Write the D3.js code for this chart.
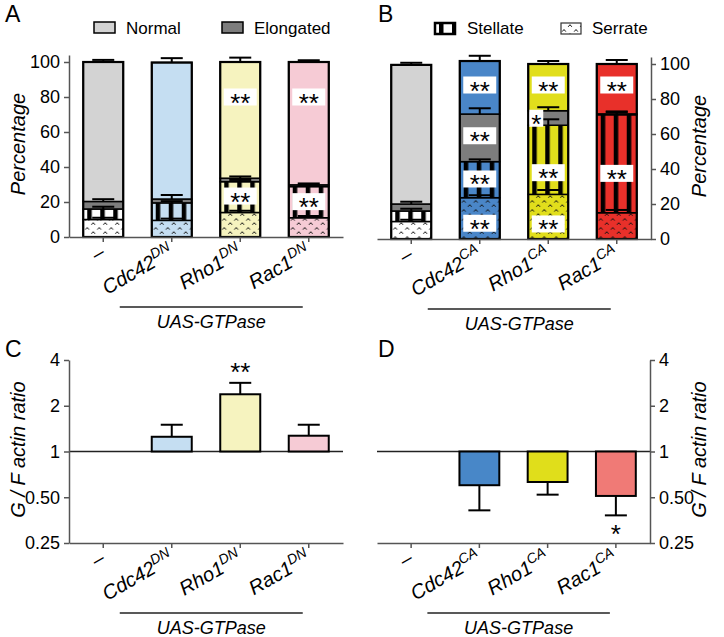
<!DOCTYPE html>
<html>
<head>
<meta charset="utf-8">
<script src="https://cdn.jsdelivr.net/npm/d3@7"></script>
<style>
body { margin: 0; background: #fff; }
text { font-family: "Liberation Sans", Arial, sans-serif; fill: #000; }
</style>
</head>
<body>
<script>
var categories = ["–", "Cdc42", "Rho1", "Rac1"];
var supDN = ["", "DN", "DN", "DN"];
var supCA = ["", "CA", "CA", "CA"];
var shapes = ["Serrate", "Stellate", "Elongated", "Normal"];

// panel A, percentage of cells per shape (bottom to top)
var serrateA   = [10, 9.5, 14, 11];
var stellateA  = [6, 10, 17.6, 17.8];
var elongatedA = [4.3, 2.2, 2, 1];
var normalA    = [79.7, 78, 66.4, 70.2];
var serrateErrA   = [1, 1, 1, 1];
var stellateErrA  = [1.3, 1, 1, 1];
var elongatedErrA = [1.3, 2.3, 1, 0.8];
var normalErrA    = [1.2, 2.5, 2.5, 1];

// panel B
var serrateB   = [10, 23.6, 25.5, 15];
var stellateB  = [6, 20.6, 39.5, 56];
var elongatedB = [4, 27.2, 8.3, 0.5];
var normalB    = [79.5, 30.3, 26.7, 28.5];
var serrateErrB   = [1, 1.4, 2.5, 1.6];
var stellateErrB  = [1.3, 1.3, 3.4, 1.5];
var elongatedErrB = [1.3, 3.3, 2, 1.4];
var normalErrB    = [1.2, 3, 1.7, 2.3];

var sigA = [{bar: 2, at: 80, t: "**"}, {bar: 2, at: 23.4, t: "**"},
            {bar: 3, at: 80, t: "**"}, {bar: 3, at: 20.2, t: "**"}];
var sigB = [{bar: 1, at: 88, t: "**"}, {bar: 1, at: 59, t: "**"}, {bar: 1, at: 34.3, t: "**"}, {bar: 1, at: 9, t: "**"},
            {bar: 2, at: 88, t: "**"}, {bar: 2, at: 69, t: "*", left: true}, {bar: 2, at: 37.9, t: "**"}, {bar: 2, at: 8.6, t: "**"},
            {bar: 3, at: 88, t: "**"}, {bar: 3, at: 37.5, t: "**"}];

// panels C and D, G/F actin ratio
var ratioC    = [1, 1.25, 2.38, 1.27];
var ratioErrC = [0, 0.25, 0.45, 0.23];
var ratioD    = [1, 0.60, 0.63, 0.51];
var ratioErrD = [0, 0.19, 0.11, 0.13];
var sigC = [{bar: 2, t: "**"}];
var sigD = [{bar: 3, t: "*"}];

var colorsDN = ["#d3d3d3", "#c5def2", "#f6f3bf", "#f6cbd5"];
var colorsCA = ["#d3d3d3", "#4a86c8", "#e1de1c", "#e8302a"];
var colorsCAratio = ["#d3d3d3", "#4887c8", "#e0de1b", "#f07a76"];
var elongatedColor = "#7d7d7d";

var svg = d3.select("body").append("svg").attr("width", 724).attr("height", 637);
var defs = svg.append("defs");

function stripePattern(id, bg, x0) {
  var pat = defs.append("pattern").attr("id", id).attr("patternUnits", "userSpaceOnUse")
    .attr("x", x0).attr("y", 0).attr("width", 13).attr("height", 10);
  pat.append("rect").attr("width", 13).attr("height", 10).attr("fill", bg);
  pat.append("rect").attr("x", 6).attr("width", 4.5).attr("height", 10).attr("fill", "#000");
}

function caretPattern(id, bg, x0) {
  var pat = defs.append("pattern").attr("id", id).attr("patternUnits", "userSpaceOnUse")
    .attr("x", x0).attr("y", 0).attr("width", 12).attr("height", 9);
  pat.append("rect").attr("width", 12).attr("height", 9).attr("fill", bg);
  pat.append("path").attr("d", "M1.2,4.6L3,2.5L4.8,4.6M7.2,8.8L9,6.7L10.8,8.8")
    .attr("fill", "none").attr("stroke", "#111").attr("stroke-width", 1);
}

function bandScale(x0, x1) {
  return d3.scaleBand().domain(d3.range(categories.length)).range([x0, x1])
    .paddingInner(0.416).paddingOuter(0.208);
}

function styleAxis(a) {
  a.select(".domain").attr("stroke", "#555").attr("stroke-width", 1.5);
  a.selectAll(".tick line").attr("stroke", "#555").attr("stroke-width", 1.5);
  a.selectAll(".tick text").style("font-size", "18px").style("font-family", "'Liberation Sans', Arial, sans-serif").attr("fill", "#000");
}

function catLabels(g, x, yAxis, sups) {
  categories.forEach(function(c, i) {
    var cx = x(i) + x.bandwidth() / 2;
    var t = g.append("text")
      .attr("transform", "translate(" + (cx + 3) + "," + (yAxis + 19) + ") rotate(-30)")
      .attr("text-anchor", "end")
      .style("font-style", "italic").style("font-size", "20px");
    t.append("tspan").text(c);
    if (sups[i]) t.append("tspan").attr("dy", -8).style("font-size", "14px").text(sups[i]);
  });
  var c1 = x(1) + x.bandwidth() / 2, c3 = x(3) + x.bandwidth() / 2;
  g.append("line").attr("x1", c1 - 52).attr("x2", c3 - 6)
    .attr("y1", yAxis + 70).attr("y2", yAxis + 70).attr("stroke", "#222").attr("stroke-width", 1.5);
  g.append("text").attr("x", (c1 - 52 + c3 - 6) / 2).attr("y", yAxis + 91)
    .attr("text-anchor", "middle").style("font-style", "italic").style("font-size", "18px")
    .text("UAS-GTPase");
}

function yTitle(g, cx, cy, label) {
  g.append("text").attr("transform", "translate(" + cx + "," + cy + ") rotate(-90)")
    .attr("text-anchor", "middle").style("font-style", "italic").style("font-size", "20px")
    .text(label);
}

function drawStack(p) {
  var g = svg.append("g");
  var x = bandScale(p.x0, p.x1);
  var y = d3.scaleLinear().domain([0, 104]).range([p.yBase, p.yBase - 182]);
  var rows = categories.map(function(c, i) {
    return {Serrate: p.vals[0][i], Stellate: p.vals[1][i], Elongated: p.vals[2][i], Normal: p.vals[3][i]};
  });
  var series = d3.stack().keys(shapes)(rows);

  categories.forEach(function(c, i) {
    var bg = i === 0 ? "#ffffff" : p.colors[i];
    stripePattern(p.id + "-st-" + i, bg, x(i) - 2);
    caretPattern(p.id + "-se-" + i, bg, x(i) + 1);
  });

  function fillFor(key, i) {
    if (key === "Normal") return p.colors[i];
    if (key === "Elongated") return elongatedColor;
    if (key === "Stellate") return "url(#" + p.id + "-st-" + i + ")";
    return "url(#" + p.id + "-se-" + i + ")";
  }

  series.forEach(function(s) {
    g.selectAll(null).data(s).enter().append("rect")
      .attr("x", function(d, i) { return x(i); })
      .attr("y", function(d) { return y(d[1]); })
      .attr("width", x.bandwidth())
      .attr("height", function(d) { return y(d[0]) - y(d[1]); })
      .attr("fill", function(d, i) { return fillFor(s.key, i); })
      .attr("stroke", "#000").attr("stroke-width", 1.5);
  });

  // outline of whole bar
  g.selectAll(null).data(series[3]).enter().append("rect")
    .attr("x", function(d, i) { return x(i); })
    .attr("y", function(d) { return y(d[1]); })
    .attr("width", x.bandwidth())
    .attr("height", function(d) { return y(0) - y(d[1]); })
    .attr("fill", "none").attr("stroke", "#000").attr("stroke-width", 2.2);

  // error bars, upward only
  series.forEach(function(s, k) {
    s.forEach(function(d, i) {
      var cx = x(i) + x.bandwidth() / 2;
      var top = y(d[1] + p.errs[k][i]);
      g.append("line").attr("x1", cx).attr("x2", cx).attr("y1", y(d[1])).attr("y2", top)
        .attr("stroke", "#000").attr("stroke-width", 2);
      g.append("line").attr("x1", cx - 11).attr("x2", cx + 11).attr("y1", top).attr("y2", top)
        .attr("stroke", "#000").attr("stroke-width", 2);
    });
  });

  // significance boxes
  p.sig.forEach(function(s) {
    var cx = x(s.bar) + x.bandwidth() / 2;
    var w = s.t.length === 2 ? 33 : 14;
    var bx = s.left ? x(s.bar) + 1 : cx - w / 2;
    g.append("rect").attr("x", bx).attr("y", y(s.at) - 8.5).attr("width", w).attr("height", 17).attr("fill", "#fff");
    g.append("text").attr("x", bx + w / 2).attr("y", y(s.at) + 14.5).attr("text-anchor", "middle")
      .style("font-size", "26px").text(s.t);
  });

  var yAxis = p.right ? d3.axisRight(y) : d3.axisLeft(y);
  yAxis.tickValues([0, 20, 40, 60, 80, 100]).tickSize(5).tickSizeOuter(0).tickPadding(4);
  styleAxis(g.append("g").attr("transform", "translate(" + (p.right ? p.x1 : p.x0) + ",0)").call(yAxis));
  var xAxis = d3.axisBottom(x).tickSize(5).tickSizeOuter(0).tickFormat("");
  styleAxis(g.append("g").attr("transform", "translate(0," + y(0) + ")").call(xAxis));

  catLabels(g, x, y(0), p.sups);
  yTitle(g, p.titleX, p.yBase - 93, "Percentage");
}

function drawRatio(p) {
  var g = svg.append("g");
  var x = bandScale(p.x0, p.x1);
  var y = d3.scaleLog().base(2).domain([0.25, 4]).range([p.yBase, p.yBase - 183]);

  g.append("line").attr("x1", p.x0).attr("x2", p.x1).attr("y1", y(1)).attr("y2", y(1))
    .attr("stroke", "#222").attr("stroke-width", 1.5);

  p.vals.forEach(function(v, i) {
    if (v === 1) return;
    var cx = x(i) + x.bandwidth() / 2;
    var end = v > 1 ? y(v + p.errs[i]) : y(v - p.errs[i]);
    g.append("line").attr("x1", cx).attr("x2", cx).attr("y1", y(v)).attr("y2", end)
      .attr("stroke", "#000").attr("stroke-width", 2);
    g.append("line").attr("x1", cx - 11).attr("x2", cx + 11).attr("y1", end).attr("y2", end)
      .attr("stroke", "#000").attr("stroke-width", 2);
    g.append("rect").attr("x", x(i)).attr("y", Math.min(y(v), y(1)))
      .attr("width", x.bandwidth()).attr("height", Math.abs(y(v) - y(1)))
      .attr("fill", p.colors[i]).attr("stroke", "#000").attr("stroke-width", 2);
  });

  p.sig.forEach(function(s) {
    var v = p.vals[s.bar];
    var cx = x(s.bar) + x.bandwidth() / 2;
    var yy = v > 1 ? y(v + p.errs[s.bar]) - 2 : y(v - p.errs[s.bar]) + 28;
    g.append("text").attr("x", cx).attr("y", yy).attr("text-anchor", "middle")
      .style("font-size", "26px").text(s.t);
  });

  var yAxis = p.right ? d3.axisRight(y) : d3.axisLeft(y);
  yAxis.tickValues([0.25, 0.5, 1, 2, 4]).tickSize(5).tickSizeOuter(0).tickPadding(4)
    .tickFormat(function(d) { return d < 1 ? d3.format(".2f")(d) : d; });
  styleAxis(g.append("g").attr("transform", "translate(" + (p.right ? p.x1 : p.x0) + ",0)").call(yAxis));
  var xAxis = d3.axisBottom(x).tickSize(5).tickSizeOuter(0).tickFormat("");
  styleAxis(g.append("g").attr("transform", "translate(0," + p.yBase + ")").call(xAxis));

  catLabels(g, x, p.yBase, p.sups);
  yTitle(g, p.titleX, y(1) - 2, "G / F actin ratio");
}

drawStack({id: "a", x0: 69, x1: 343, yBase: 237, right: false, titleX: 25, sups: supDN, colors: colorsDN,
  vals: [serrateA, stellateA, elongatedA, normalA],
  errs: [serrateErrA, stellateErrA, elongatedErrA, normalErrA], sig: sigA});
drawStack({id: "b", x0: 377, x1: 651, yBase: 239, right: true, titleX: 706, sups: supCA, colors: colorsCA,
  vals: [serrateB, stellateB, elongatedB, normalB],
  errs: [serrateErrB, stellateErrB, elongatedErrB, normalErrB], sig: sigB});
drawRatio({x0: 69, x1: 343, yBase: 543, right: false, titleX: 25, sups: supDN, colors: colorsDN,
  vals: ratioC, errs: ratioErrC, sig: sigC});
drawRatio({x0: 377, x1: 650, yBase: 543, right: true, titleX: 706, sups: supCA, colors: colorsCAratio,
  vals: ratioD, errs: ratioErrD, sig: sigD});

// legends
var legendA = [{label: "Normal", x: 94, fill: colorsDN[0]}, {label: "Elongated", x: 222, fill: elongatedColor}];
legendA.forEach(function(l) {
  svg.append("rect").attr("x", l.x).attr("y", 22).attr("width", 21).attr("height", 11)
    .attr("fill", l.fill).attr("stroke", "#000").attr("stroke-width", 1.5);
  svg.append("text").attr("x", l.x + 32).attr("y", 34).style("font-size", "17px").text(l.label);
});
stripePattern("leg-st", "#ffffff", 433);
caretPattern("leg-se", "#ffffff", 561);
svg.append("rect").attr("x", 435).attr("y", 23).attr("width", 20).attr("height", 11)
  .attr("fill", "url(#leg-st)").attr("stroke", "#000").attr("stroke-width", 2.5);
svg.append("text").attr("x", 467).attr("y", 34).style("font-size", "17px").text("Stellate");
svg.append("rect").attr("x", 561).attr("y", 23).attr("width", 20).attr("height", 11)
  .attr("fill", "url(#leg-se)").attr("stroke", "#333").attr("stroke-width", 1.2);
svg.append("text").attr("x", 592).attr("y", 34).style("font-size", "17px").text("Serrate");

// panel letters
[["A", 5, 22], ["B", 378, 22], ["C", 5, 357], ["D", 378, 357]].forEach(function(l) {
  svg.append("text").attr("x", l[1]).attr("y", l[2]).style("font-size", "23px").text(l[0]);
});
</script>
</body>
</html>
